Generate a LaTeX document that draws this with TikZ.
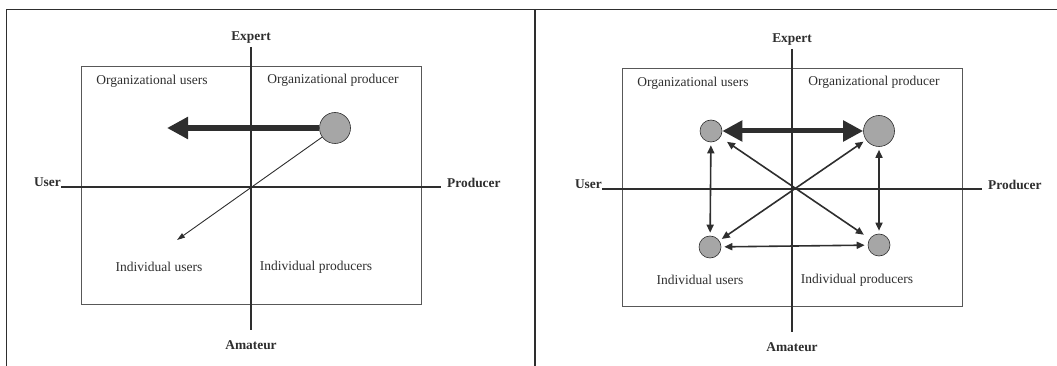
\documentclass[tikz,border=0pt]{standalone}
\usepackage{fontspec}
\setmainfont{Liberation Serif}
\usepackage{tikz}
\usetikzlibrary{arrows.meta}
\definecolor{ink}{rgb}{0.18, 0.18, 0.18}
\definecolor{ballgray}{rgb}{0.65, 0.65, 0.65}
\tikzstyle{ball}=[circle, draw=ink, fill=ballgray, line width=0.6pt, inner sep=0pt]
\tikzstyle{bigball}=[ball, minimum size=31pt]
\tikzstyle{smallball}=[ball, minimum size=22pt]
\tikzstyle{mainaxis}=[line width=2.4pt, color=ink]
\tikzstyle{axislabel}=[font=\fontsize{13.4}{16}\selectfont\bfseries, text=ink, inner sep=3pt]
\tikzstyle{quadlabel}=[font=\fontsize{13.5}{16}\selectfont, text=ink, inner sep=0pt]
\tikzstyle{fatarrow}=[line width=5.5pt, color=ink, -{Triangle[length=21pt,width=21pt]}]
\tikzstyle{fatboth}=[line width=5pt, color=ink, {Triangle[length=20pt,width=20pt]}-{Triangle[length=20pt,width=20pt]}]
\tikzstyle{oneway}=[line width=0.9pt, color=ink, -{Triangle[length=8pt,width=5pt]}]
\tikzstyle{twoway}=[line width=1.6pt, color=ink, {Triangle[length=8pt,width=7pt]}-{Triangle[length=8pt,width=7pt]}, shorten <=3pt, shorten >=3pt]

\begin{document}
\begin{tikzpicture}[x=1pt, y=-1pt]
    \useasboundingbox (0,0) rectangle (1057,366);
    % frame and the line between the two panels
    \draw[line width=1.4pt, color=ink] (6.5,366) -- (6.5,9.5) -- (1057,9.5);
    \draw[line width=1.4pt, color=ink] (535,9.5) -- (535,366);

    % box, axes and quadrant names, once for each panel
    \foreach \p/\cx/\cy/\ly in {L/251/186/81, R/792/188/92}{
      \draw[color=ink!80, line width=0.8pt] (\cx-170,\cy-120) rectangle (\cx+170,\cy+118);
      \node[axislabel, anchor=south] (expert-\p) at (\cx,\cy-139) {Expert};
      \node[axislabel, anchor=north] (amateur-\p) at (\cx,\cy+151) {Amateur};
      \node[axislabel, anchor=base east, inner sep=0pt] (user-\p) at (\cx-190,\cy+1) {User};
      \node[axislabel, anchor=west, inner xsep=6pt] (producer-\p) at (\cx+190,\cy-3) {Producer};
      \draw[mainaxis, shorten >=7pt] (expert-\p.south) -- (amateur-\p.north);
      \draw[mainaxis] (user-\p.base east) -- (user-\p.base east -| producer-\p.west);

      \node[quadlabel] (orgusers-\p) at (\cx-99,\cy-105) {Organizational users};
      \node[quadlabel] (orgprod-\p) at (\cx+82,\cy-106) {Organizational producer};
      \node[quadlabel] (indusers-\p) at (\cx-92,\cy+\ly) {Individual users};
      \node[quadlabel] (indprod-\p) at (\cx+65,\cy+\ly) {Individual producers};
    }

    % left: one producer pushing out to users
    \node[bigball] (op-L) at (335,128) {};
    \coordinate (fattip-L) at (167,128);
    \coordinate (thintip-L) at (177,240);
    \draw[fatarrow] (op-L) -- (fattip-L);
    \draw[oneway] (op-L) -- (thintip-L);

    % right: every group linked with every other
    \node[smallball] (ou-R) at (711,131) {};
    \node[bigball] (op-R) at (879,131) {};
    \node[smallball] (iu-R) at (710,247) {};
    \node[smallball] (ip-R) at (879,245) {};
    \draw[fatboth] (ou-R) -- (op-R);
    \draw[twoway] (ou-R) -- (iu-R);
    \draw[twoway] (op-R) -- (ip-R);
    \draw[twoway] (iu-R) -- (ip-R);
    \draw[twoway] (iu-R) -- (op-R);
    \draw[twoway, shorten <=8pt, shorten >=7pt] (ou-R) -- (ip-R);
\end{tikzpicture}
\end{document}
